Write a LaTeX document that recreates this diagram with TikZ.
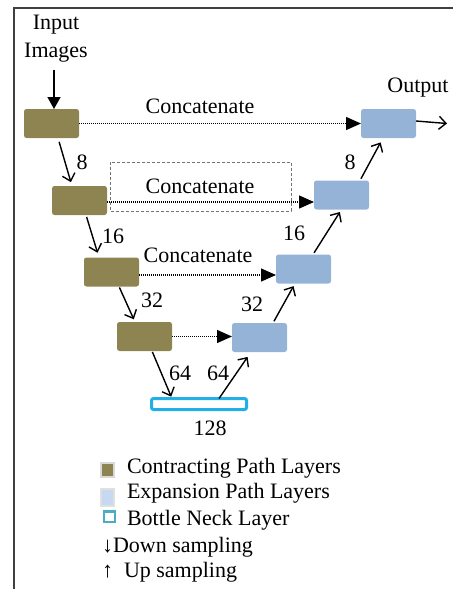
\documentclass[tikz,border=0pt]{standalone}
\usepackage{fontspec}
\setmainfont{Liberation Serif}
\usetikzlibrary{arrows.meta}
\definecolor{contract}{HTML}{8E8452}
\definecolor{expand}{HTML}{95B3D7}
\definecolor{neck}{HTML}{22AFE6}
\definecolor{legblue}{HTML}{C6D9F1}
\definecolor{legneck}{HTML}{4BACC6}
\begin{document}
\begin{tikzpicture}[y=1pt, x=1pt, yscale=-1, inner sep=0pt, outer sep=0pt,
  font=\fontsize{22}{26}\selectfont,
  cbox/.style={fill=contract, rounded corners=2.5pt, minimum width=55pt, minimum height=29pt},
  ebox/.style={fill=expand, rounded corners=2.5pt, minimum width=55pt, minimum height=29pt},
  nbox/.style={draw=neck, line width=3pt, fill=white, rounded corners=2pt, minimum width=95pt, minimum height=11pt},
  down/.style={line width=1.4pt, -{Straight Barb[length=7pt,width=13pt,line width=1.4pt]}},
  up/.style={line width=1.4pt, -{Straight Barb[length=7pt,width=13pt,line width=1.4pt]}},
  concat/.style={dash pattern=on 1pt off 1pt, line width=1.3pt, -{Triangle[length=15pt,width=13pt]}}]
\useasboundingbox (0,0) rectangle (453,589);
\path[draw=black!75, line width=1.5pt] (453,8) -- (14,8) -- (14,589);

% contracting path
\node[cbox] (c1) at (51.5,123.5) {};
\node[cbox] (c2) at (79.5,200.5) {};
\node[cbox] (c3) at (111.5,272) {};
\node[cbox] (c4) at (144.5,336.5) {};
% expansion path
\node[ebox] (e1) at (388.5,123.5) {};
\node[ebox] (e2) at (341.5,195) {};
\node[ebox] (e3) at (303.5,269) {};
\node[ebox] (e4) at (259.5,337.5) {};
% bottle neck
\node[nbox] (neck) at (199,404) {};

\node[anchor=base] (input) at (56,29) {Input};
\node[anchor=base] (images) at (56,57) {Images};
\node[anchor=base] (output) at (418,92) {Output};
\coordinate (out) at (447,126);

\draw[line width=1.5pt, -{Triangle[length=12pt,width=13pt]}]
  ([xshift=2.5pt]c1.north |- images.south) ++(0,8) -- ([xshift=2.5pt]c1.north);
\draw[line width=1.4pt, -{Straight Barb[length=7pt,width=13pt,line width=1.4pt]}]
  ([yshift=-2.5pt]e1.east) -- ([yshift=-2.5pt]out);

% down sampling
\draw[down, shorten <=4pt, shorten >=4pt] ([xshift=6.5pt]c1.south) -- ([xshift=-7.5pt]c2.north);
\draw[down, shorten <=2pt, shorten >=5pt] ([xshift=6.5pt]c2.south) -- ([xshift=-12.5pt]c3.north);
\draw[down, shorten <=1pt, shorten >=3pt] ([xshift=7.5pt]c3.south) -- ([xshift=-9.5pt]c4.north);
\draw[down, shorten <=1pt, shorten >=2pt] ([xshift=7.5pt]c4.south) -- ([xshift=-27pt]neck.north);
% up sampling
\draw[up, shorten >=6pt] ([xshift=20pt]neck.north) -- ([xshift=-8.5pt]e4.south);
\draw[up, shorten <=2pt, shorten >=3pt] ([xshift=13.5pt]e4.north) -- ([xshift=-8.5pt]e3.south);
\draw[up, shorten <=2pt, shorten >=3pt] ([xshift=9.5pt]e3.north) -- (e2.south);
\draw[up, shorten <=2pt, shorten >=5pt] ([xshift=18.5pt]e2.north) -- ([xshift=-5.5pt]e1.south);

\node (n8a) at (82,162) {8};
\node (n16a) at (113,236) {16};
\node (n32a) at (152,300) {32};
\node (n64a) at (180,373) {64};
\node (n64b) at (218,373) {64};
\node (n32b) at (252,304) {32};
\node (n16b) at (294,233) {16};
\node (n8b) at (350,162) {8};
\node (n128) at (210,428) {128};

% concatenation
\draw[concat] (c1.east) -- (c1.east -| e1.west);
\draw[concat] ([yshift=1.5pt]c2.east) -- ([yshift=1.5pt]c2.east -| e2.west);
\draw[concat] ([yshift=3pt]c3.east) -- ([yshift=3pt]c3.east -| e3.west);
\draw[concat] (c4.east) -- (c4.east -| e4.west);
\draw[draw=black!55, dash pattern=on 3pt off 2pt, line width=0.7pt] (110,162) rectangle (291,211);
\node[anchor=base] (cat1) at (200,113) {Concatenate};
\node[anchor=base] (cat2) at (200,193) {Concatenate};
\node[anchor=base] (cat3) at (198,262) {Concatenate};

% legend
\node[draw=black!15, line width=2pt, fill=contract, minimum width=13pt, minimum height=14pt] (lc) at (107.5,470) {};
\node[draw=black!12, line width=2pt, fill=legblue, minimum width=13pt, minimum height=17pt] (le) at (107.5,497.5) {};
\node[draw=legneck, line width=2.5pt, fill=white, minimum width=11pt, minimum height=10.5pt] (ln) at (109.5,516.5) {};
\node[anchor=base west] (tc) at (127,473) {Contracting Path Layers};
\node[anchor=base west] (te) at (127,498) {Expansion Path Layers};
\node[anchor=base west] (tn) at (127,525) {Bottle Neck Layer};
\node[anchor=base west] (td) at (102,552) {↓Down sampling};
\node[anchor=base west] (tu) at (102,577) {↑\ \ Up sampling};
\end{tikzpicture}
\end{document}
